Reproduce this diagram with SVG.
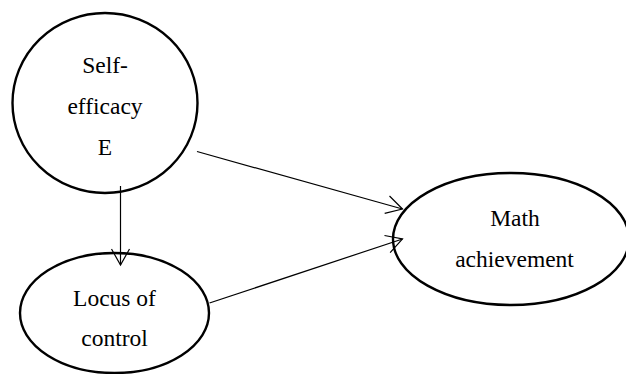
<svg xmlns="http://www.w3.org/2000/svg" width="626" height="374" viewBox="0 0 626 374">
<style>
.node{fill:#fff;stroke:#000;stroke-width:2.4}
.lbl{font-family:"Liberation Serif","Times New Roman",serif;font-size:23.5px;fill:#000;text-anchor:middle}
.edge{stroke:#000;stroke-width:1.2;fill:none}
</style>
<defs>
<marker id="arr" viewBox="-17 -10 19 20" refX="0" refY="0" markerWidth="19" markerHeight="20" markerUnits="userSpaceOnUse" orient="auto">
<path d="M-16,-9 L0,0 L-16,9" fill="none" stroke="#000" stroke-width="1.2"/>
</marker>
</defs>
<rect width="626" height="374" fill="#fff"/>
<g id="self-efficacy">
<ellipse class="node" cx="105" cy="103" rx="92.5" ry="90"/>
<text class="lbl" x="105" y="73">Self-</text>
<text class="lbl" x="105" y="114">efficacy</text>
<text class="lbl" x="105" y="155">E</text>
</g>
<g id="locus-of-control">
<ellipse class="node" cx="114.5" cy="313" rx="94.5" ry="60"/>
<text class="lbl" x="114.5" y="306">Locus of</text>
<text class="lbl" x="114.5" y="346">control</text>
</g>
<g id="math-achievement">
<ellipse class="node" cx="511" cy="239" rx="118" ry="66"/>
<text class="lbl" x="515" y="226">Math</text>
<text class="lbl" x="514.5" y="267">achievement</text>
</g>
<g id="connectors">
<line class="edge" x1="120.5" y1="186" x2="120.5" y2="265" marker-end="url(#arr)"/>
<line class="edge" x1="197" y1="151.5" x2="402.5" y2="209" marker-end="url(#arr)"/>
<line class="edge" x1="209.5" y1="303" x2="402.5" y2="239" marker-end="url(#arr)"/>
</g>
</svg>
